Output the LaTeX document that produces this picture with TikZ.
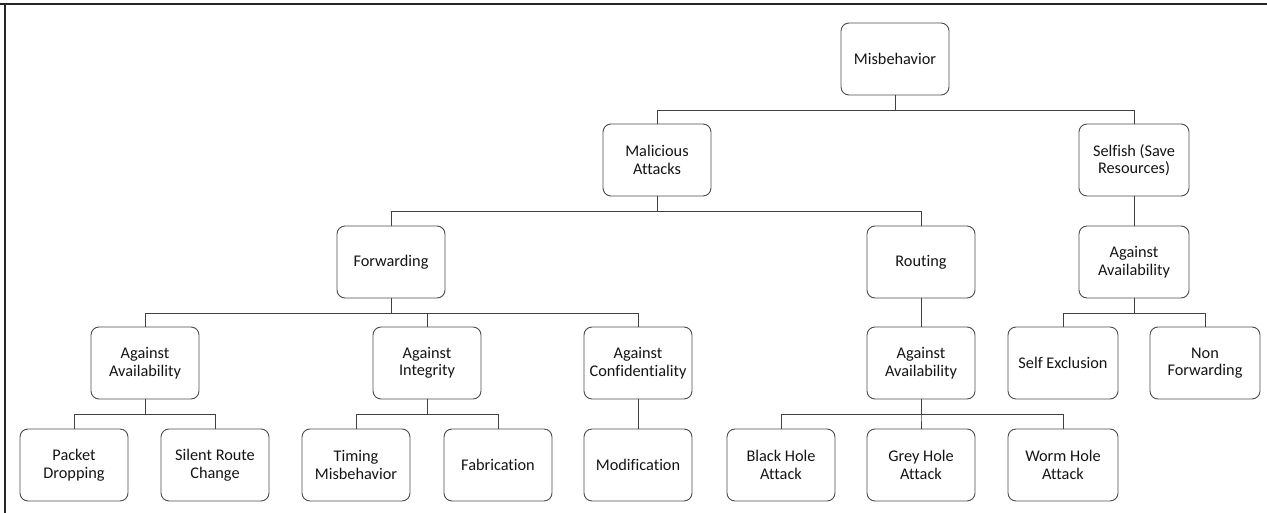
\documentclass[tikz,border=0pt]{standalone}
\usepackage{fontspec}
\setmainfont[Ligatures=NoCommon]{Carlito}
\begin{document}
\begin{tikzpicture}[x=1pt,y=-1pt,
  box/.style={draw=black!70, line width=0.9pt, rounded corners=8pt, minimum width=108pt, minimum height=72pt,
    align=center, inner sep=2pt, font=\fontsize{16.3}{17.5}\selectfont, text=black!92},
  conn/.style={draw=black!75, line width=0.9pt}]
\useasboundingbox (0,0) rectangle (1267,513);
\draw[line width=2pt, black!85] (0,4) -- (1267,4);
\draw[line width=2pt, black!85] (5,4) -- (5,513);
% level 0
\node[box] (mis) at (895,59) {Misbehavior};
% level 1
\node[box] (mal) at (657,160) {Malicious\\Attacks};
\node[box, minimum width=110pt] (sel) at (1134,160) {Selfish (Save\\Resources)};
% level 2
\node[box] (fwd) at (391,262) {Forwarding};
\node[box] (rou) at (921,262) {Routing};
\node[box, minimum width=110pt] (saa) at (1134,262) {Against\\Availability};
% level 3
\node[box] (faa) at (145,363) {Against\\Availability};
\node[box] (fai) at (427,363) {Against\\Integrity};
\node[box] (fac) at (638,363) {Against\\Confidentiality};
\node[box] (raa) at (921,363) {Against\\Availability};
\node[box, minimum width=110pt] (sex) at (1063,363) {Self Exclusion};
\node[box, minimum width=110pt] (nfw) at (1205,363) {Non\\Forwarding};
% level 4
\node[box] (pd) at (74,465) {Packet\\Dropping};
\node[box] (src) at (215,465) {Silent Route\\Change};
\node[box] (tm) at (356,465) {Timing\\Misbehavior};
\node[box] (fab) at (498,465) {Fabrication};
\node[box] (mod) at (638,465) {Modification};
\node[box] (bh) at (781,465) {Black Hole\\Attack};
\node[box] (gh) at (921,465) {Grey Hole\\Attack};
\node[box, minimum width=110pt] (wh) at (1063,465) {Worm Hole\\Attack};
% connectors
\foreach \p/\c in {mis/mal, mis/sel}
  \draw[conn] (\p.south) -- ++(0,15) -| (\c.north);
\foreach \p/\c in {mal/fwd, mal/rou}
  \draw[conn] (\p.south) -- ++(0,15) -| (\c.north);
\draw[conn] (sel.south) -- (saa.north);
\foreach \p/\c in {fwd/faa, fwd/fai, fwd/fac}
  \draw[conn] (\p.south) -- ++(0,14.5) -| (\c.north);
\draw[conn] (rou.south) -- (raa.north);
\foreach \p/\c in {saa/sex, saa/nfw}
  \draw[conn] (\p.south) -- ++(0,14.5) -| (\c.north);
\foreach \p/\c in {faa/pd, faa/src}
  \draw[conn] (\p.south) -- ++(0,15) -| (\c.north);
\foreach \p/\c in {fai/tm, fai/fab}
  \draw[conn] (\p.south) -- ++(0,15) -| (\c.north);
\draw[conn] (fac.south) -- (mod.north);
\foreach \p/\c in {raa/bh, raa/gh, raa/wh}
  \draw[conn] (\p.south) -- ++(0,15) -| (\c.north);
\end{tikzpicture}
\end{document}
